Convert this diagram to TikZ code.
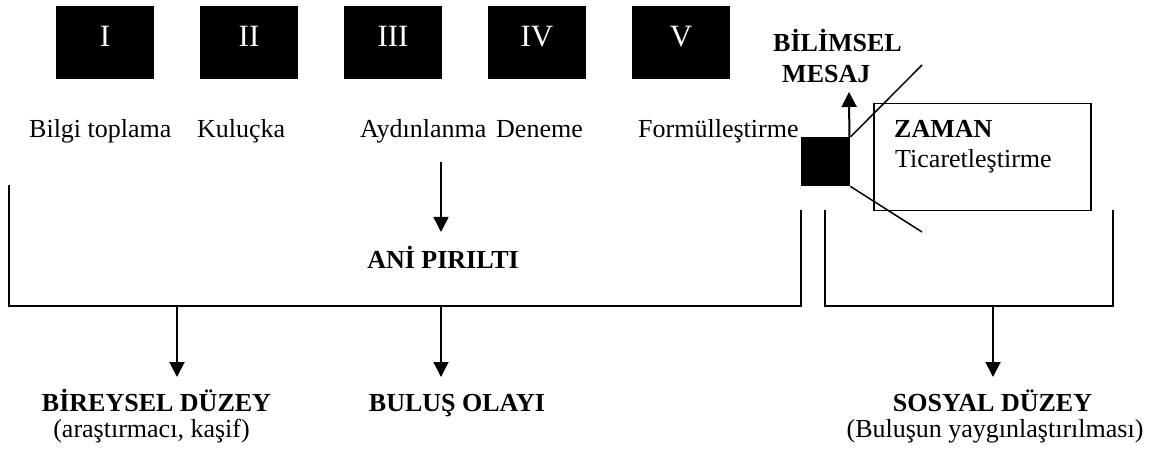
\documentclass[tikz,border=0pt]{standalone}
\usepackage{fontspec}
\setmainfont{Liberation Serif}
\usetikzlibrary{arrows.meta}
\begin{document}
\begin{tikzpicture}[x=1pt,y=-1pt,
  txt/.style={inner sep=0pt, anchor=base west, font=\fontsize{26}{30}\selectfont},
  btxt/.style={inner sep=0pt, anchor=base, font=\fontsize{26}{30}\selectfont\bfseries},
  ctxt/.style={inner sep=0pt, anchor=base, font=\fontsize{26}{30}\selectfont},
  stage/.style={fill=black, minimum width=98pt, minimum height=73pt, inner sep=0pt, anchor=north west},
  numeral/.style={inner sep=0pt, anchor=base, text=white, font=\fontsize{31}{31}\selectfont},
  frame/.style={line width=2pt},
  tip/.style={-{Triangle[length=15pt,width=15pt]}},
  thinarrow/.style={tip, line width=1.3pt},
  thickarrow/.style={tip, line width=2pt},
]
\useasboundingbox (0,0) rectangle (1162,454);

% the five stages
\foreach \n/\r [count=\i from 0] in {s1/I,s2/II,s3/III,s4/IV,s5/V} {
  \node[stage] (\n) at (56+144*\i,6) {};
  \node[numeral] at (105+144*\i,47) {\r};
}

% stage names
\node[txt] (l1) at (29,138) {Bilgi toplama};
\node[txt] (l2) at (197,138) {Kuluçka};
\node[txt] (l3) at (360,138) {Aydınlanma};
\node[txt] (l4) at (496,138) {Deneme};
\node[txt] (l5) at (638,138) {Formülleştirme};

% flash of insight
\coordinate (ayd) at (441,162);
\coordinate (aniTip) at (441,232);
\draw[thinarrow] (ayd) -- (aniTip);
\node[btxt] (ani) at (443,269) {ANİ PIRILTI};

% individual level bracket
\coordinate (bTL) at (9,185);
\coordinate (bBL) at (9,306);
\coordinate (bBR) at (801,306);
\coordinate (bTR) at (801,210);
\draw[frame] (bTL) -- (bBL) -- (bBR) -- (bTR);

% social level bracket
\coordinate (sTL) at (825,210);
\coordinate (sBL) at (825,306);
\coordinate (sBR) at (1113,306);
\coordinate (sTR) at (1113,210);
\draw[frame] (sTL) -- (sBL) -- (sBR) -- (sTR);

% message block, scientific message and time frame
\node[fill=black, minimum size=49pt, inner sep=0pt, anchor=north west] (sq) at (801,137) {};
\node[draw, line width=1.5pt, minimum width=217pt, minimum height=107pt, inner sep=0pt, anchor=north west] (zbox) at (873,103) {};
\coordinate (msgTip) at (849,92);
\coordinate (rayUp) at (922,65);
\coordinate (rayDown) at (922,232);
\draw[thickarrow] (sq.north east) ++(-1,0) -- (msgTip);
\draw[line width=1.5pt] (sq.north east) -- (rayUp);
\draw[line width=1.5pt] (sq.south east) -- (rayDown);
\node[btxt, anchor=base west] (bil) at (773,52) {BİLİMSEL};
\node[btxt, anchor=base west] (mes) at (782,83) {MESAJ};
\node[btxt, anchor=base west] (zam) at (894,138) {ZAMAN};
\node[txt] (tic) at (895,168) {Ticaretleştirme};

% outcomes
\coordinate (bSrc) at (177,306);
\coordinate (bTip) at (177,377);
\coordinate (oSrc) at (441,306);
\coordinate (oTip) at (441,377);
\coordinate (sSrc) at (993,306);
\coordinate (sTip) at (993,377);
\draw[thickarrow] (bSrc) -- (bTip);
\draw[thinarrow] (oSrc) -- (oTip);
\draw[thickarrow] (sSrc) -- (sTip);

\node[btxt] (bir) at (156.5,411) {BİREYSEL DÜZEY};
\node[ctxt] (bir2) at (151.5,437) {(araştırmacı, kaşif)};
\node[btxt] (bul) at (457,411) {BULUŞ OLAYI};
\node[btxt] (sos) at (992.5,411) {SOSYAL DÜZEY};
\node[ctxt] (sos2) at (995,437) {(Buluşun yaygınlaştırılması)};
\end{tikzpicture}
\end{document}
